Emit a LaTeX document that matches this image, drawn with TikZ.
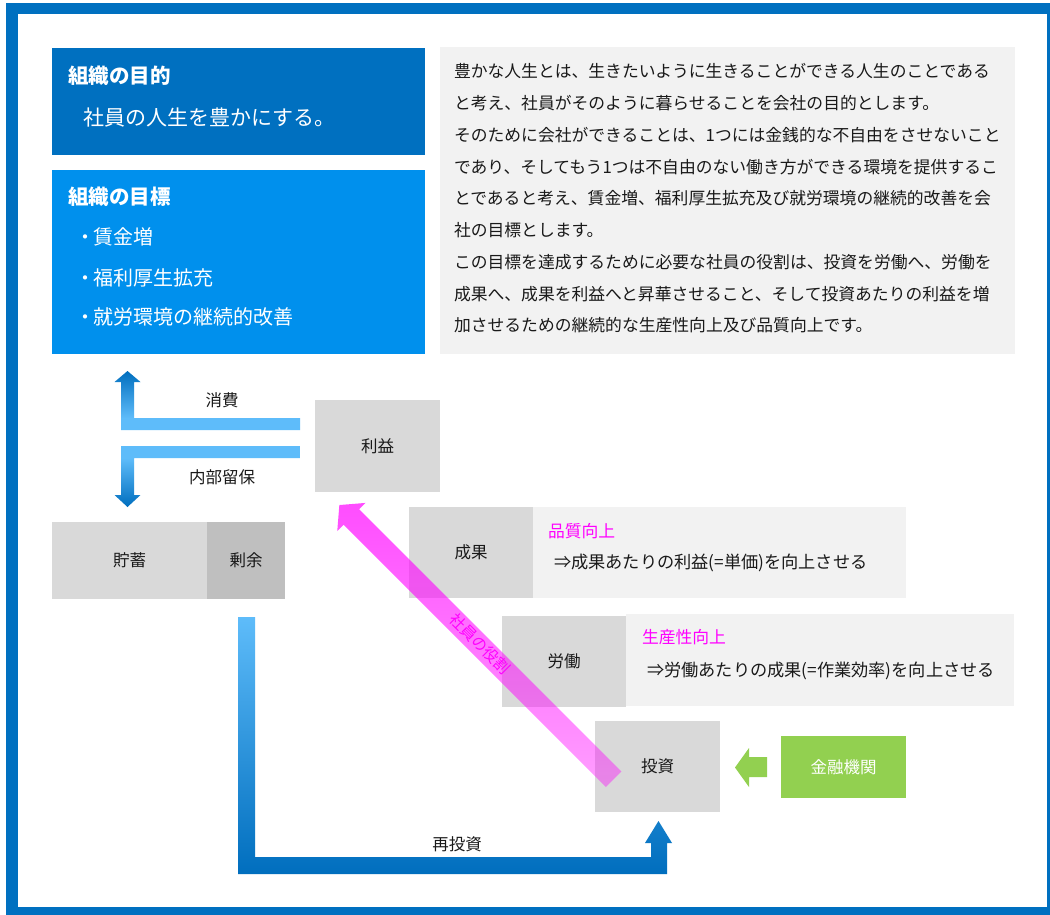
\documentclass[tikz,border=0pt]{standalone}
\usepackage{fontspec}
\setmainfont{Noto Sans CJK JP}
\usetikzlibrary{fadings}
\definecolor{fblue}{RGB}{0,112,192}
\definecolor{mblue}{RGB}{0,144,237}
\definecolor{lblue}{RGB}{94,188,250}
\definecolor{dblue}{RGB}{0,110,190}
\definecolor{lgray}{RGB}{242,242,242}
\definecolor{mgray}{RGB}{217,217,217}
\definecolor{dgray}{RGB}{191,191,191}
\definecolor{lgreen}{RGB}{146,208,80}
\definecolor{pinkm}{RGB}{255,0,255}
\definecolor{txt}{RGB}{25,25,25}
\pgfdeclareverticalshading{upshade}{100bp}{color(0bp)=(lblue); color(35bp)=(lblue); color(75bp)=(dblue); color(100bp)=(dblue)}
\pgfdeclareverticalshading{downshade}{100bp}{color(0bp)=(dblue); color(25bp)=(dblue); color(65bp)=(lblue); color(100bp)=(lblue)}
\tikzfading[name=pfade, top color=transparent!30, bottom color=transparent!62]
\newcommand\fsz[1]{\fontsize{#1}{#1}\selectfont}
\begin{document}
\begin{tikzpicture}[x=1pt,y=-1pt,
  every node/.style={inner sep=0pt, outer sep=0pt},
  box/.style n args={3}{rectangle, fill=#1, minimum width=#2pt, minimum height=#3pt, text=txt, font=\fsz{16.5}},
  lbl/.style={font=\fsz{16.5}, text=txt},
  head/.style={font=\bfseries\fsz{20.5}, text=white, anchor=base west},
  big/.style={font=\fsz{21}, text=white, anchor=base west},
  bul/.style={font=\fsz{20}, text=white, anchor=base west},
  desc/.style={font=\fsz{16.8}, text=txt, anchor=base west},
  pk/.style={font=\fsz{16.8}, text=pinkm, anchor=base west},
  sub/.style={font=\fsz{17.2}, text=txt, anchor=base west}]
\useasboundingbox (0,0) rectangle (1050,915);
\fill[fblue] (6,3) rectangle (1050,915);
\fill[white] (18,14) rectangle (1047,907);

% top-left boxes
\node[box={fblue}{373}{107}] (purpose) at (238.5,101.5) {};
\node[head] (purposeT) at (68,83.3) {組織の目的};
\node[big] (purposeS) at (83,126) {社員の人生を豊かにする。};
\node[box={mblue}{373}{184}] (goal) at (238.5,262) {};
\node[head] (goalT) at (68,204.8) {組織の目標};
\node[bul] (g1) at (78,244.3) {\makebox[15pt][c]{・}賃金増};
\node[bul] (g2) at (78,285.1) {\makebox[15pt][c]{・}福利厚生拡充};
\node[bul] (g3) at (78,324.3) {\makebox[15pt][c]{・}就労環境の継続的改善};

% description
\node[box={lgray}{575}{307}] (descbox) at (727.5,200.5) {};
\node[desc] (d1) at (454,77.9) {豊かな人生とは、生きたいように生きることができる人生のことである};
\node[desc] (d2) at (454,109.65) {と考え、社員がそのように暮らせることを会社の目的とします。};
\node[desc] (d3) at (454,141.4) {そのために会社ができることは、1つには金銭的な不自由をさせないこと};
\node[desc] (d4) at (454,173.15) {であり、そしてもう1つは不自由のない働き方ができる環境を提供するこ};
\node[desc] (d5) at (454,204.9) {とであると考え、賃金増、福利厚生拡充及び就労環境の継続的改善を会};
\node[desc] (d6) at (454,236.65) {社の目標とします。};
\node[desc] (d7) at (454,268.4) {この目標を達成するために必要な社員の役割は、投資を労働へ、労働を};
\node[desc] (d8) at (454,300.15) {成果へ、成果を利益へと昇華させること、そして投資あたりの利益を増};
\node[desc] (d9) at (454,331.9) {加させるための継続的な生産性向上及び品質向上です。};

% lower boxes
\node[box={mgray}{125}{92}] (rieki) at (377.5,446) {利益};
\node[box={mgray}{155}{77}] (chochiku) at (129.5,560.5) {貯蓄};
\node[box={dgray}{78}{77}] (joyo) at (246,560.5) {剰余};
\node[box={lgray}{373}{91}] (seikaT) at (719.5,552.5) {};
\node[box={mgray}{124}{91}] (seika) at (471,552.5) {成果};
\node[box={lgray}{388}{92}] (roudouT) at (820,660) {};
\node[box={mgray}{124}{91}] (roudou) at (564,661.5) {労働};
\node[box={mgray}{125}{91}] (toushi) at (657.5,766.5) {投資};
\node[box={lgreen}{125}{62}, text=white] (kinyu) at (843.5,767) {金融機関};

\node[pk] (hinshitsu) at (548,537.3) {品質向上};
\node[sub] (hinshitsuS) at (554,568.5) {⇒成果あたりの利益(=単価)を向上させる};
\node[pk] (seisan) at (642,643.3) {生産性向上};
\node[sub] (seisanS) at (647,676.5) {⇒労働あたりの成果(=作業効率)を向上させる};

% blue block arrows
\shade[shading=upshade] (300,418) -- (134,418) -- (134,382) -- (140.5,382) -- (127.5,371) -- (114.5,382) -- (121,382) -- (121,430) -- (300,430) -- cycle;
\shade[shading=downshade] (300,446) -- (121,446) -- (121,495) -- (114.5,495) -- (127.5,507) -- (140.5,495) -- (134,495) -- (134,458) -- (300,458) -- cycle;
\node[lbl] (shohi) at (222,400) {消費};
\node[lbl] (naibu) at (222,477) {内部留保};

\shade[top color=lblue, bottom color=dblue] (238,617) -- (255,617) -- (255,857) -- (651,857) -- (651,843) -- (645,843) -- (658.5,821) -- (672,843) -- (667,843) -- (667,874) -- (238,874) -- cycle;
\node[lbl] (saitoushi) at (457,844) {再投資};

% green arrow
\fill[lgreen] (767,757) -- (749,757) -- (749,748) -- (735,767.5) -- (749,787) -- (749,777) -- (767,777) -- cycle;

% pink arrow
\fill[pinkm, path fading=pfade] (621.5,771.5) -- (359.2,509.1) -- (365.6,502.8) -- (339.4,504.9) -- (337.3,531) -- (343.7,524.7) -- (606,787) -- cycle;
\node[font=\fsz{15.5}, text=pinkm, rotate=-45] (role) at (480,644) {社員の役割};
\end{tikzpicture}
\end{document}
